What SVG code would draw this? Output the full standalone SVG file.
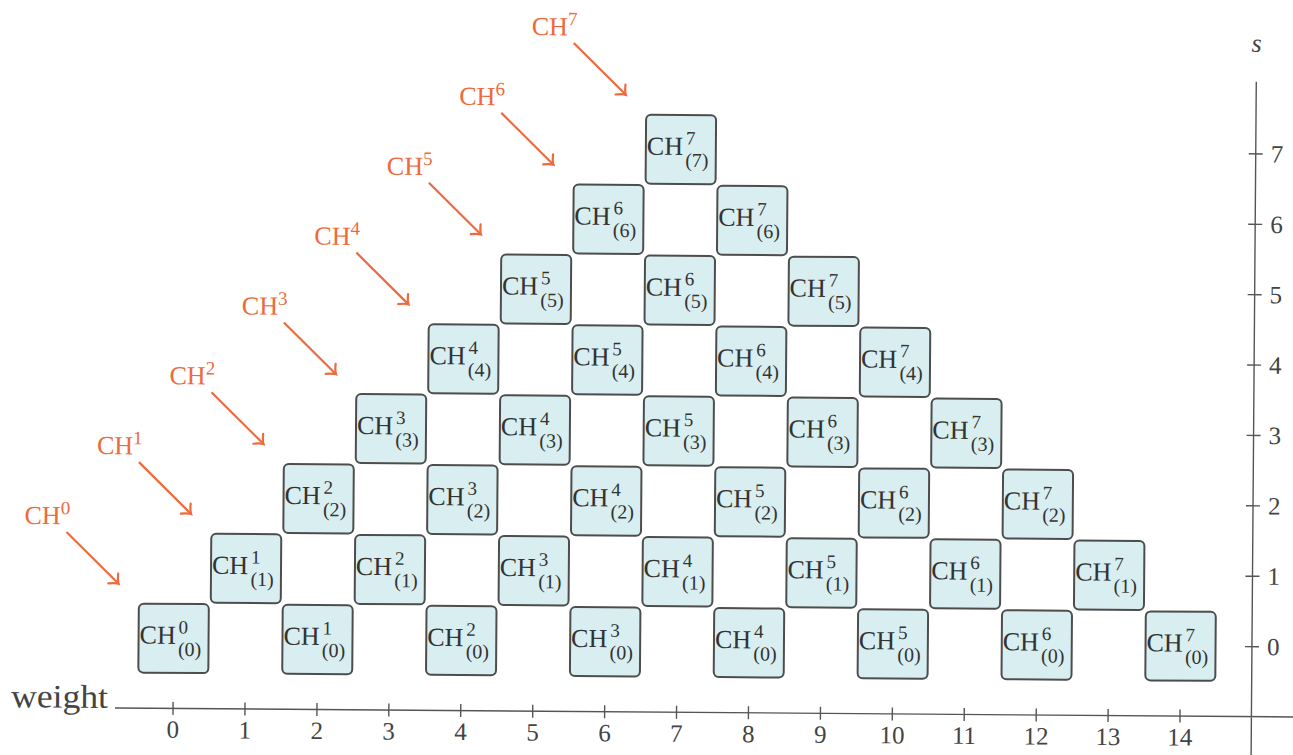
<svg xmlns="http://www.w3.org/2000/svg" width="1293" height="755" viewBox="0 0 1293 755">
<style>
.box{fill:#d9eef0;stroke:#4d4d4d;stroke-width:2}
.t{font-family:"Liberation Serif","DejaVu Serif",serif;font-size:26px;fill:#333}
.sp{font-size:19px}
.sb{font-size:20px}
.o{font-family:"Liberation Serif","DejaVu Serif",serif;font-size:26px;fill:#ee6a3c}
.arr{stroke:#ee6a3c;stroke-width:2.2;fill:none;marker-end:url(#ah)}
.ax{stroke:#555;stroke-width:1.4;fill:none}
.n{font-family:"Liberation Serif","DejaVu Serif",serif;font-size:25px;fill:#444}
</style>
<defs>
<marker id="ah" markerUnits="userSpaceOnUse" viewBox="-10 -10 12 20" markerWidth="12" markerHeight="20" refX="0" refY="0" orient="auto" overflow="visible">
<path d="M -7.5 -7 Q -3 -1.5 0 0 Q -3 1.5 -7.5 7" fill="none" stroke="#ee6a3c" stroke-width="2.2" stroke-linecap="round"/>
</marker>
<rect id="b" class="box" x="-35" y="-34.5" width="70" height="69" rx="5"/>
</defs>
<rect width="1293" height="755" fill="#ffffff"/>
<g transform="rotate(0.44 646 377)">
<g id="axes">
<path class="ax" d="M117.5 712H1310M1254 77V775"/>
<path class="ax" d="M175.6 705.5v13M247.5 705.5v13M319.5 705.5v13M391.4 705.5v13M463.3 705.5v13M535.3 705.5v13M607.2 705.5v13M679.1 705.5v13M751 705.5v13M823 705.5v13M894.9 705.5v13M966.8 705.5v13M1038.8 705.5v13M1110.7 705.5v13M1182.6 705.5v13"/>
<path class="ax" d="M1247 642h14M1247 571.6h14M1247 501.2h14M1247 430.8h14M1247 360.4h14M1247 290h14M1247 219.6h14M1247 149.2h14"/>
<text class="n" x="110.5" y="712" text-anchor="end" style="font-size:33px" textLength="97" lengthAdjust="spacingAndGlyphs">weight</text>
<text class="n" x="1254" y="47" text-anchor="middle" font-style="italic" style="font-size:26px">s</text>
<g text-anchor="middle">
<text class="n" x="175.6" y="741.5">0</text><text class="n" x="247.5" y="741.5">1</text><text class="n" x="319.5" y="741.5">2</text><text class="n" x="391.4" y="741.5">3</text><text class="n" x="463.3" y="741.5">4</text><text class="n" x="535.3" y="741.5">5</text><text class="n" x="607.2" y="741.5">6</text><text class="n" x="679.1" y="741.5">7</text><text class="n" x="751" y="741.5">8</text><text class="n" x="823" y="741.5">9</text><text class="n" x="894.9" y="741.5">10</text><text class="n" x="966.8" y="741.5">11</text><text class="n" x="1038.8" y="741.5">12</text><text class="n" x="1110.7" y="741.5">13</text><text class="n" x="1182.6" y="741.5">14</text>
</g>
<text class="n" x="1269" y="650.5">0</text><text class="n" x="1269" y="580.1">1</text><text class="n" x="1269" y="509.7">2</text><text class="n" x="1269" y="439.3">3</text><text class="n" x="1269" y="368.9">4</text><text class="n" x="1269" y="298.5">5</text><text class="n" x="1269" y="228.1">6</text><text class="n" x="1269" y="157.7">7</text>
</g>
<g id="connectors">
<path class="arr" d="M67.7 536.4L120.2 587.8"/>
<path class="arr" d="M139.6 466L192.1 517.4"/>
<path class="arr" d="M211.6 395.6L264.1 447"/>
<path class="arr" d="M283.5 325.2L336 376.6"/>
<path class="arr" d="M355.4 254.8L407.9 306.2"/>
<path class="arr" d="M427.4 184.4L479.9 235.8"/>
<path class="arr" d="M499.3 114L551.8 165.4"/>
<path class="arr" d="M571.2 43.6L623.7 95"/>
</g>
<g id="labels">
<g id="L0"><text class="o" x="25.6" y="528.7">CH<tspan class="sp" dy="-10">0</tspan></text></g>
<g id="L1"><text class="o" x="97.5" y="458.3">CH<tspan class="sp" dy="-10">1</tspan></text></g>
<g id="L2"><text class="o" x="169.5" y="387.9">CH<tspan class="sp" dy="-10">2</tspan></text></g>
<g id="L3"><text class="o" x="241.4" y="317.5">CH<tspan class="sp" dy="-10">3</tspan></text></g>
<g id="L4"><text class="o" x="313.3" y="247.1">CH<tspan class="sp" dy="-10">4</tspan></text></g>
<g id="L5"><text class="o" x="385.3" y="176.7">CH<tspan class="sp" dy="-10">5</tspan></text></g>
<g id="L6"><text class="o" x="457.2" y="106.3">CH<tspan class="sp" dy="-10">6</tspan></text></g>
<g id="L7"><text class="o" x="529.1" y="35.9">CH<tspan class="sp" dy="-10">7</tspan></text></g>
</g>
<g id="nodes">
<g id="n0_0" transform="translate(175.6 642)"><use href="#b"/><text class="t" x="-34" y="5.5">CH<tspan class="sp" x="5" y="-5">0</tspan><tspan class="sb" x="4.5" y="17.5">(0)</tspan></text></g>
<g id="n1_1" transform="translate(247.5 571.6)"><use href="#b"/><text class="t" x="-34" y="5.5">CH<tspan class="sp" x="5" y="-5">1</tspan><tspan class="sb" x="4.5" y="17.5">(1)</tspan></text></g>
<g id="n1_0" transform="translate(319.5 642)"><use href="#b"/><text class="t" x="-34" y="5.5">CH<tspan class="sp" x="5" y="-5">1</tspan><tspan class="sb" x="4.5" y="17.5">(0)</tspan></text></g>
<g id="n2_2" transform="translate(319.5 501.2)"><use href="#b"/><text class="t" x="-34" y="5.5">CH<tspan class="sp" x="5" y="-5">2</tspan><tspan class="sb" x="4.5" y="17.5">(2)</tspan></text></g>
<g id="n2_1" transform="translate(391.4 571.6)"><use href="#b"/><text class="t" x="-34" y="5.5">CH<tspan class="sp" x="5" y="-5">2</tspan><tspan class="sb" x="4.5" y="17.5">(1)</tspan></text></g>
<g id="n2_0" transform="translate(463.3 642)"><use href="#b"/><text class="t" x="-34" y="5.5">CH<tspan class="sp" x="5" y="-5">2</tspan><tspan class="sb" x="4.5" y="17.5">(0)</tspan></text></g>
<g id="n3_3" transform="translate(391.4 430.8)"><use href="#b"/><text class="t" x="-34" y="5.5">CH<tspan class="sp" x="5" y="-5">3</tspan><tspan class="sb" x="4.5" y="17.5">(3)</tspan></text></g>
<g id="n3_2" transform="translate(463.3 501.2)"><use href="#b"/><text class="t" x="-34" y="5.5">CH<tspan class="sp" x="5" y="-5">3</tspan><tspan class="sb" x="4.5" y="17.5">(2)</tspan></text></g>
<g id="n3_1" transform="translate(535.3 571.6)"><use href="#b"/><text class="t" x="-34" y="5.5">CH<tspan class="sp" x="5" y="-5">3</tspan><tspan class="sb" x="4.5" y="17.5">(1)</tspan></text></g>
<g id="n3_0" transform="translate(607.2 642)"><use href="#b"/><text class="t" x="-34" y="5.5">CH<tspan class="sp" x="5" y="-5">3</tspan><tspan class="sb" x="4.5" y="17.5">(0)</tspan></text></g>
<g id="n4_4" transform="translate(463.3 360.4)"><use href="#b"/><text class="t" x="-34" y="5.5">CH<tspan class="sp" x="5" y="-5">4</tspan><tspan class="sb" x="4.5" y="17.5">(4)</tspan></text></g>
<g id="n4_3" transform="translate(535.3 430.8)"><use href="#b"/><text class="t" x="-34" y="5.5">CH<tspan class="sp" x="5" y="-5">4</tspan><tspan class="sb" x="4.5" y="17.5">(3)</tspan></text></g>
<g id="n4_2" transform="translate(607.2 501.2)"><use href="#b"/><text class="t" x="-34" y="5.5">CH<tspan class="sp" x="5" y="-5">4</tspan><tspan class="sb" x="4.5" y="17.5">(2)</tspan></text></g>
<g id="n4_1" transform="translate(679.1 571.6)"><use href="#b"/><text class="t" x="-34" y="5.5">CH<tspan class="sp" x="5" y="-5">4</tspan><tspan class="sb" x="4.5" y="17.5">(1)</tspan></text></g>
<g id="n4_0" transform="translate(751 642)"><use href="#b"/><text class="t" x="-34" y="5.5">CH<tspan class="sp" x="5" y="-5">4</tspan><tspan class="sb" x="4.5" y="17.5">(0)</tspan></text></g>
<g id="n5_5" transform="translate(535.3 290)"><use href="#b"/><text class="t" x="-34" y="5.5">CH<tspan class="sp" x="5" y="-5">5</tspan><tspan class="sb" x="4.5" y="17.5">(5)</tspan></text></g>
<g id="n5_4" transform="translate(607.2 360.4)"><use href="#b"/><text class="t" x="-34" y="5.5">CH<tspan class="sp" x="5" y="-5">5</tspan><tspan class="sb" x="4.5" y="17.5">(4)</tspan></text></g>
<g id="n5_3" transform="translate(679.1 430.8)"><use href="#b"/><text class="t" x="-34" y="5.5">CH<tspan class="sp" x="5" y="-5">5</tspan><tspan class="sb" x="4.5" y="17.5">(3)</tspan></text></g>
<g id="n5_2" transform="translate(751 501.2)"><use href="#b"/><text class="t" x="-34" y="5.5">CH<tspan class="sp" x="5" y="-5">5</tspan><tspan class="sb" x="4.5" y="17.5">(2)</tspan></text></g>
<g id="n5_1" transform="translate(823 571.6)"><use href="#b"/><text class="t" x="-34" y="5.5">CH<tspan class="sp" x="5" y="-5">5</tspan><tspan class="sb" x="4.5" y="17.5">(1)</tspan></text></g>
<g id="n5_0" transform="translate(894.9 642)"><use href="#b"/><text class="t" x="-34" y="5.5">CH<tspan class="sp" x="5" y="-5">5</tspan><tspan class="sb" x="4.5" y="17.5">(0)</tspan></text></g>
<g id="n6_6" transform="translate(607.2 219.6)"><use href="#b"/><text class="t" x="-34" y="5.5">CH<tspan class="sp" x="5" y="-5">6</tspan><tspan class="sb" x="4.5" y="17.5">(6)</tspan></text></g>
<g id="n6_5" transform="translate(679.1 290)"><use href="#b"/><text class="t" x="-34" y="5.5">CH<tspan class="sp" x="5" y="-5">6</tspan><tspan class="sb" x="4.5" y="17.5">(5)</tspan></text></g>
<g id="n6_4" transform="translate(751 360.4)"><use href="#b"/><text class="t" x="-34" y="5.5">CH<tspan class="sp" x="5" y="-5">6</tspan><tspan class="sb" x="4.5" y="17.5">(4)</tspan></text></g>
<g id="n6_3" transform="translate(823 430.8)"><use href="#b"/><text class="t" x="-34" y="5.5">CH<tspan class="sp" x="5" y="-5">6</tspan><tspan class="sb" x="4.5" y="17.5">(3)</tspan></text></g>
<g id="n6_2" transform="translate(894.9 501.2)"><use href="#b"/><text class="t" x="-34" y="5.5">CH<tspan class="sp" x="5" y="-5">6</tspan><tspan class="sb" x="4.5" y="17.5">(2)</tspan></text></g>
<g id="n6_1" transform="translate(966.8 571.6)"><use href="#b"/><text class="t" x="-34" y="5.5">CH<tspan class="sp" x="5" y="-5">6</tspan><tspan class="sb" x="4.5" y="17.5">(1)</tspan></text></g>
<g id="n6_0" transform="translate(1038.8 642)"><use href="#b"/><text class="t" x="-34" y="5.5">CH<tspan class="sp" x="5" y="-5">6</tspan><tspan class="sb" x="4.5" y="17.5">(0)</tspan></text></g>
<g id="n7_7" transform="translate(679.1 149.2)"><use href="#b"/><text class="t" x="-34" y="5.5">CH<tspan class="sp" x="5" y="-5">7</tspan><tspan class="sb" x="4.5" y="17.5">(7)</tspan></text></g>
<g id="n7_6" transform="translate(751 219.6)"><use href="#b"/><text class="t" x="-34" y="5.5">CH<tspan class="sp" x="5" y="-5">7</tspan><tspan class="sb" x="4.5" y="17.5">(6)</tspan></text></g>
<g id="n7_5" transform="translate(823 290)"><use href="#b"/><text class="t" x="-34" y="5.5">CH<tspan class="sp" x="5" y="-5">7</tspan><tspan class="sb" x="4.5" y="17.5">(5)</tspan></text></g>
<g id="n7_4" transform="translate(894.9 360.4)"><use href="#b"/><text class="t" x="-34" y="5.5">CH<tspan class="sp" x="5" y="-5">7</tspan><tspan class="sb" x="4.5" y="17.5">(4)</tspan></text></g>
<g id="n7_3" transform="translate(966.8 430.8)"><use href="#b"/><text class="t" x="-34" y="5.5">CH<tspan class="sp" x="5" y="-5">7</tspan><tspan class="sb" x="4.5" y="17.5">(3)</tspan></text></g>
<g id="n7_2" transform="translate(1038.8 501.2)"><use href="#b"/><text class="t" x="-34" y="5.5">CH<tspan class="sp" x="5" y="-5">7</tspan><tspan class="sb" x="4.5" y="17.5">(2)</tspan></text></g>
<g id="n7_1" transform="translate(1110.7 571.6)"><use href="#b"/><text class="t" x="-34" y="5.5">CH<tspan class="sp" x="5" y="-5">7</tspan><tspan class="sb" x="4.5" y="17.5">(1)</tspan></text></g>
<g id="n7_0" transform="translate(1182.6 642)"><use href="#b"/><text class="t" x="-34" y="5.5">CH<tspan class="sp" x="5" y="-5">7</tspan><tspan class="sb" x="4.5" y="17.5">(0)</tspan></text></g>
</g>
</g>
</svg>
